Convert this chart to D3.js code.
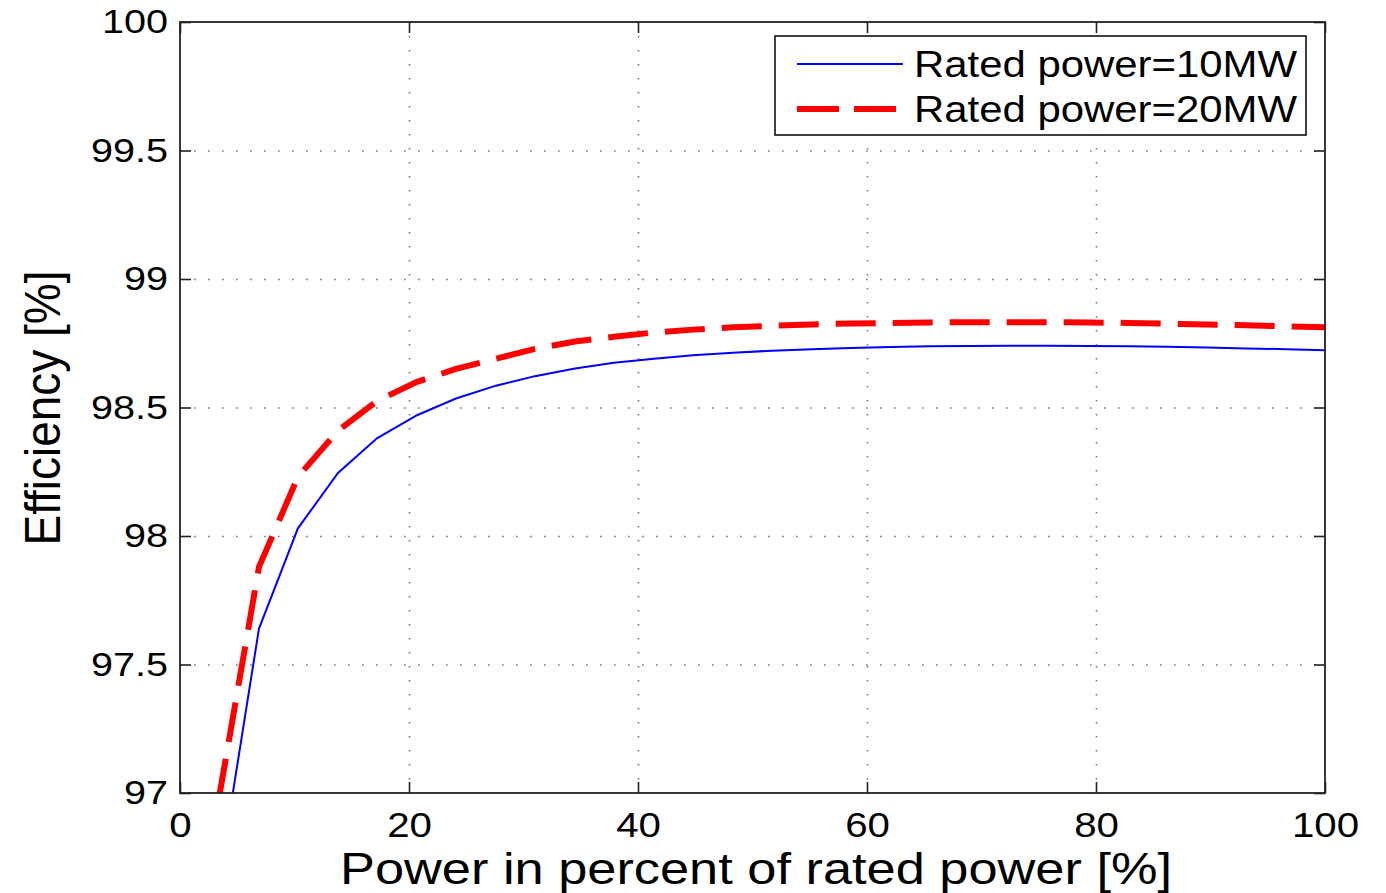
<!DOCTYPE html>
<html>
<head>
<meta charset="utf-8">
<script src="https://cdn.jsdelivr.net/npm/d3@7"></script>
<style>
  body { margin: 0; background: #fff; }
  svg { display: block; font-family: "Liberation Sans", Arial, Helvetica, sans-serif; }
</style>
</head>
<body>
<svg id="chart"></svg>
<script>
// power in percent of rated power
const powerPct = [3.4, 6.9, 10.3, 13.8, 17.2, 20.7, 24.1, 27.6, 31.0, 34.5, 37.9, 41.4, 44.8, 48.3, 51.7,
  55.2, 58.6, 62.1, 65.5, 69.0, 72.4, 75.9, 79.3, 82.8, 86.2, 89.7, 93.1, 96.6, 100];
const eff10MW = [96.66, 97.64, 98.03, 98.245, 98.38, 98.47, 98.535, 98.585, 98.622, 98.652, 98.674, 98.690,
  98.703, 98.713, 98.721, 98.727, 98.732, 98.735, 98.738, 98.739, 98.740, 98.740, 98.739, 98.738, 98.736,
  98.733, 98.730, 98.727, 98.723];
const eff20MW = [96.98, 97.88, 98.23, 98.41, 98.525, 98.60, 98.65, 98.69, 98.728, 98.757, 98.775, 98.792,
  98.803, 98.812, 98.818, 98.823, 98.827, 98.829, 98.831, 98.832, 98.832, 98.832, 98.831, 98.829, 98.826,
  98.823, 98.820, 98.816, 98.812];
const xTicks = [0, 20, 40, 60, 80, 100];
const yTicks = [97, 97.5, 98, 98.5, 99, 99.5, 100];
const seriesNames = ['Rated power=10MW', 'Rated power=20MW'];

const width = 1386, height = 893;
const margin = {top: 22, right: 61, bottom: 100, left: 180};
const w = width - margin.left - margin.right;
const h = height - margin.top - margin.bottom;

const svg = d3.select('#chart').attr('width', width).attr('height', height);
const g = svg.append('g').attr('transform', `translate(${margin.left},${margin.top})`);

const x = d3.scaleLinear().domain([0, 100]).range([0, w]);
const y = d3.scaleLinear().domain([97, 100]).range([h, 0]);

g.append('clipPath').attr('id', 'clip')
  .append('rect').attr('width', w).attr('height', h);

// dotted grid
g.append('g')
  .call(d3.axisBottom(x).tickValues(xTicks.slice(1, -1)).tickSize(h).tickFormat(''))
  .call(s => s.select('.domain').remove())
  .selectAll('line').attr('stroke', '#777').attr('stroke-width', 1.6).attr('stroke-dasharray', '1.6,12.4');
g.append('g')
  .call(d3.axisLeft(y).tickValues(yTicks.slice(1, -1)).tickSize(-w).tickFormat(''))
  .call(s => s.select('.domain').remove())
  .selectAll('line').attr('stroke', '#777').attr('stroke-width', 1.6).attr('stroke-dasharray', '1.6,12.4');

// lines
const line = vals => d3.line()
  .x((d, i) => x(powerPct[i]))
  .y(d => y(d))(vals);

const plot = g.append('g').attr('clip-path', 'url(#clip)');
plot.append('path').attr('d', line(eff10MW))
  .attr('fill', 'none').attr('stroke', '#0000ff').attr('stroke-width', 2);
plot.append('path').attr('d', line(eff20MW))
  .attr('fill', 'none').attr('stroke', '#ff0000').attr('stroke-width', 6)
  .attr('stroke-dasharray', '40,17');

// the original text is a bit wider than Arial, so stretch it sideways
const widen = (sel, k) => sel.each(function() {
  const len = this.getComputedTextLength();
  if (len > 0) d3.select(this).attr('textLength', len * k).attr('lengthAdjust', 'spacingAndGlyphs');
});

// axes with inward ticks on all four sides
const tickStyle = (size, k) => s => {
  s.select('.domain').remove();
  s.selectAll('.tick line').attr('stroke', '#222').attr('stroke-width', 1.6);
  s.selectAll('text').attr('fill', '#000').style('font-size', size + 'px')
    .style('font-family', '"Liberation Sans", Arial, sans-serif')
    .call(widen, k);
};
g.append('g').attr('transform', `translate(0,${h})`)
  .call(d3.axisBottom(x).tickValues(xTicks).tickSize(-11).tickPadding(19).tickFormat(d3.format('d')))
  .call(tickStyle(35, 1.15));
g.append('g')
  .call(d3.axisTop(x).tickValues(xTicks).tickSize(-11).tickFormat(''))
  .call(tickStyle(35, 1));
g.append('g')
  .call(d3.axisLeft(y).tickValues(yTicks).tickSize(-11).tickPadding(12).tickFormat(d => d))
  .call(tickStyle(33, 1.2));
g.append('g').attr('transform', `translate(${w},0)`)
  .call(d3.axisRight(y).tickValues(yTicks).tickSize(-11).tickFormat(''))
  .call(tickStyle(33, 1));

// frame
g.append('rect').attr('width', w).attr('height', h)
  .attr('fill', 'none').attr('stroke', '#222').attr('stroke-width', 1.8);

// axis titles
svg.append('text').attr('x', 756).attr('y', 884).attr('text-anchor', 'middle')
  .attr('textLength', 832).attr('lengthAdjust', 'spacingAndGlyphs')
  .style('font-size', '44px').text('Power in percent of rated power [%]');
svg.append('text').attr('transform', 'translate(60,408) rotate(-90)').attr('text-anchor', 'middle')
  .attr('textLength', 275).attr('lengthAdjust', 'spacingAndGlyphs')
  .style('font-size', '50px').text('Efficiency [%]');

// legend
const lg = svg.append('g').attr('transform', 'translate(775,36)');
lg.append('rect').attr('width', 531).attr('height', 99)
  .attr('fill', '#fff').attr('stroke', '#111').attr('stroke-width', 1.6);
const legendItems = [
  {name: seriesNames[0], color: '#0000ff', sw: 2, dash: null},
  {name: seriesNames[1], color: '#ff0000', sw: 6, dash: '42,15'}
];
legendItems.forEach((d, i) => {
  const yy = 28 + i * 45;
  lg.append('line').attr('x1', 22).attr('x2', 128).attr('y1', yy).attr('y2', yy)
    .attr('stroke', d.color).attr('stroke-width', d.sw).attr('stroke-dasharray', d.dash);
  lg.append('text').attr('x', 139).attr('y', yy + 13)
    .attr('textLength', 383).attr('lengthAdjust', 'spacingAndGlyphs')
    .style('font-size', '36px').text(d.name);
});
</script>
</body>
</html>
